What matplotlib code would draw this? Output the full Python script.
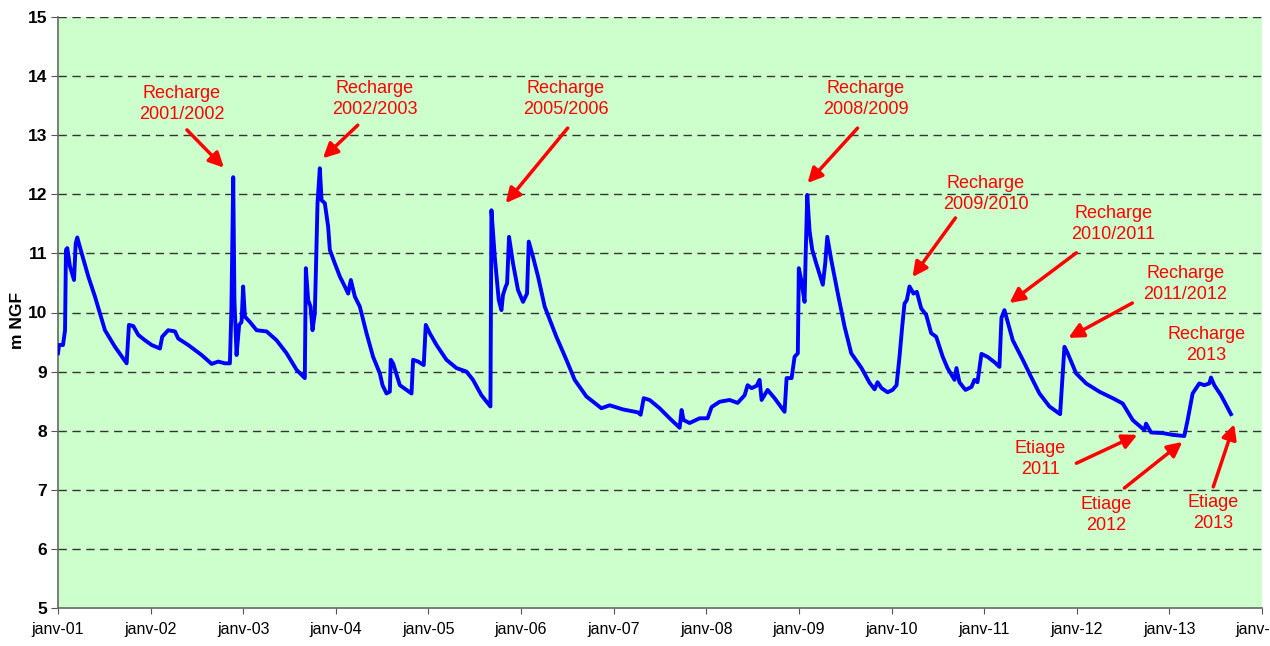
import matplotlib.pyplot as plt

plt.rcParams['font.family'] = ['Liberation Sans', 'DejaVu Sans']

# niveau piézométrique (m NGF), temps en années décimales
annees = [2001.000, 2001.011, 2001.054, 2001.076, 2001.086, 2001.100, 2001.129, 2001.173, 2001.191, 2001.208,
          2001.256, 2001.327, 2001.399, 2001.507, 2001.615, 2001.741, 2001.766, 2001.813, 2001.867, 2001.939,
          2002.011, 2002.101, 2002.125, 2002.190, 2002.263, 2002.298, 2002.406, 2002.551, 2002.659, 2002.730,
          2002.802, 2002.856, 2002.872, 2002.892, 2002.905, 2002.928, 2002.956, 2002.982, 2002.999, 2003.018,
          2003.072, 2003.144, 2003.252, 2003.360, 2003.468, 2003.576, 2003.665, 2003.676, 2003.701, 2003.727,
          2003.748, 2003.773, 2003.784, 2003.802, 2003.827, 2003.846, 2003.881, 2003.917, 2003.935, 2003.989,
          2004.043, 2004.097, 2004.133, 2004.162, 2004.205, 2004.259, 2004.331, 2004.402, 2004.475, 2004.504,
          2004.547, 2004.583, 2004.593, 2004.618, 2004.691, 2004.763, 2004.817, 2004.834, 2004.888, 2004.949,
          2004.971, 2005.014, 2005.087, 2005.194, 2005.302, 2005.410, 2005.481, 2005.572, 2005.669, 2005.680,
          2005.716, 2005.759, 2005.788, 2005.805, 2005.834, 2005.849, 2005.870, 2005.913, 2005.967, 2006.021,
          2006.064, 2006.083, 2006.129, 2006.183, 2006.255, 2006.381, 2006.489, 2006.579, 2006.705, 2006.867,
          2006.957, 2007.100, 2007.262, 2007.291, 2007.324, 2007.388, 2007.496, 2007.604, 2007.712, 2007.733,
          2007.755, 2007.820, 2007.928, 2008.014, 2008.057, 2008.144, 2008.252, 2008.338, 2008.414, 2008.446,
          2008.489, 2008.543, 2008.575, 2008.597, 2008.662, 2008.737, 2008.845, 2008.867, 2008.921, 2008.953,
          2008.988, 2008.999, 2009.025, 2009.061, 2009.072, 2009.090, 2009.115, 2009.144, 2009.187, 2009.258,
          2009.284, 2009.306, 2009.349, 2009.420, 2009.493, 2009.565, 2009.676, 2009.763, 2009.817, 2009.849,
          2009.892, 2009.957, 2010.011, 2010.054, 2010.086, 2010.115, 2010.140, 2010.165, 2010.194, 2010.237,
          2010.273, 2010.320, 2010.374, 2010.428, 2010.482, 2010.553, 2010.604, 2010.680, 2010.701, 2010.733,
          2010.798, 2010.863, 2010.895, 2010.928, 2010.971, 2011.036, 2011.111, 2011.165, 2011.187, 2011.219,
          2011.309, 2011.417, 2011.507, 2011.597, 2011.705, 2011.820, 2011.867, 2011.902, 2011.993, 2012.101,
          2012.244, 2012.388, 2012.496, 2012.604, 2012.730, 2012.748, 2012.802, 2012.927, 2013.035, 2013.161,
          2013.197, 2013.251, 2013.323, 2013.377, 2013.431, 2013.449, 2013.485, 2013.557, 2013.665]
niveaux = [9.31, 9.45, 9.45, 9.70, 11.06, 11.09, 10.78, 10.55, 11.17, 11.27,
           11.00, 10.61, 10.27, 9.70, 9.42, 9.14, 9.79, 9.77, 9.62, 9.53,
           9.45, 9.39, 9.59, 9.70, 9.68, 9.56, 9.45, 9.28, 9.13, 9.17,
           9.14, 9.14, 10.04, 12.29, 10.20, 9.28, 9.79, 9.84, 10.44, 9.93,
           9.84, 9.70, 9.68, 9.53, 9.31, 9.03, 8.89, 10.75, 10.21, 10.10,
           9.70, 9.99, 10.66, 11.85, 12.44, 11.90, 11.85, 11.45, 11.06, 10.83,
           10.61, 10.44, 10.32, 10.55, 10.27, 10.10, 9.65, 9.25, 8.97, 8.77,
           8.63, 8.66, 9.20, 9.14, 8.77, 8.69, 8.63, 9.20, 9.17, 9.11,
           9.79, 9.65, 9.45, 9.20, 9.06, 9.00, 8.86, 8.60, 8.41, 11.73,
           10.94, 10.21, 10.04, 10.30, 10.44, 10.49, 11.28, 10.83, 10.38, 10.18,
           10.32, 11.20, 10.94, 10.61, 10.10, 9.59, 9.20, 8.86, 8.58, 8.38,
           8.43, 8.36, 8.31, 8.27, 8.55, 8.52, 8.38, 8.21, 8.05, 8.35,
           8.18, 8.13, 8.21, 8.21, 8.40, 8.49, 8.52, 8.47, 8.60, 8.77,
           8.72, 8.76, 8.86, 8.52, 8.69, 8.55, 8.32, 8.89, 8.89, 9.25,
           9.31, 10.75, 10.55, 10.18, 10.92, 11.99, 11.38, 11.06, 10.83, 10.47,
           10.83, 11.28, 10.89, 10.32, 9.76, 9.31, 9.06, 8.81, 8.70, 8.82,
           8.72, 8.65, 8.69, 8.77, 9.25, 9.76, 10.15, 10.21, 10.44, 10.32,
           10.35, 10.07, 9.96, 9.65, 9.59, 9.25, 9.06, 8.86, 9.06, 8.82,
           8.69, 8.74, 8.86, 8.82, 9.30, 9.25, 9.16, 9.08, 9.91, 10.04,
           9.53, 9.20, 8.91, 8.63, 8.41, 8.28, 9.42, 9.31, 8.97, 8.80,
           8.66, 8.55, 8.46, 8.18, 8.01, 8.12, 7.97, 7.96, 7.93, 7.91,
           8.18, 8.63, 8.80, 8.77, 8.80, 8.90, 8.77, 8.60, 8.28]

annees_ticks = list(range(2001, 2015))
labels_ticks = ['janv-01', 'janv-02', 'janv-03', 'janv-04', 'janv-05', 'janv-06', 'janv-07',
                'janv-08', 'janv-09', 'janv-10', 'janv-11', 'janv-12', 'janv-13', 'janv-14']

# annotations : texte, position du texte, départ et pointe de la flèche
textes = ['Recharge\n2001/2002', 'Recharge\n2002/2003', 'Recharge\n2005/2006', 'Recharge\n2008/2009',
          'Recharge\n2009/2010', 'Recharge\n2010/2011', 'Recharge\n2011/2012', 'Recharge\n2013',
          'Etiage\n2011', 'Etiage\n2012', 'Etiage\n2013']
pos_textes = [(2002.338, 13.53), (2004.421, 13.61), (2006.482, 13.61), (2009.719, 13.61),
              (2011.014, 12.00), (2012.395, 11.50), (2013.172, 10.48), (2013.399, 9.45),
              (2011.608, 7.52), (2012.320, 6.57), (2013.474, 6.61)]
fleches = [((2002.392, 13.09), (2002.791, 12.45)),
           ((2004.237, 13.17), (2003.860, 12.61)),
           ((2006.503, 13.12), (2005.834, 11.85)),
           ((2009.633, 13.12), (2009.093, 12.19)),
           ((2010.690, 11.60), (2010.226, 10.60)),
           ((2011.996, 11.01), (2011.273, 10.16)),
           ((2012.600, 10.16), (2011.910, 9.57)),
           ((2011.996, 7.45), (2012.654, 7.93)),
           ((2012.514, 7.03), (2013.140, 7.81)),
           ((2013.474, 7.05), (2013.700, 8.11))]

fig = plt.figure(figsize=(12.7, 6.46), dpi=100)
ax = fig.add_axes([58 / 1270, 38 / 646, 1204 / 1270, 591 / 646])
ax.set_facecolor('#CCFFCC')

for v in range(6, 16):
    ax.axhline(v, color='#333333', lw=1, linestyle=(0, (6, 4)), zorder=1)

ax.plot(annees, niveaux, color='#0000FF', lw=2.8, zorder=3)

for t, (xt, yt) in zip(textes, pos_textes):
    ax.text(xt, yt, t, color='red', fontsize=13, ha='center', va='center',
            linespacing=1.3, zorder=4)
for depart, pointe in fleches:
    ax.annotate('', xy=pointe, xytext=depart,
                arrowprops=dict(arrowstyle='-|>', color='red', lw=2.5,
                                mutation_scale=22, shrinkA=0, shrinkB=0), zorder=4)

ax.set_xlim(2001, 2014)
ax.set_ylim(5, 15)
ax.set_xticks(annees_ticks)
ax.set_xticklabels(labels_ticks, fontsize=11.5)
ax.set_yticks(range(5, 16))
ax.set_yticklabels([str(v) for v in range(5, 16)], fontsize=12.5, fontweight='bold')
ax.tick_params(axis='x', direction='out', length=4, pad=6, color='#555555')
ax.tick_params(axis='y', direction='out', length=5, pad=3, color='#555555')

ax.set_ylabel('m NGF', fontsize=12.5, fontweight='bold')
ax.yaxis.set_label_coords(-0.027, 0.487)

for s in ['top', 'right']:
    ax.spines[s].set_visible(False)
for s in ['left', 'bottom']:
    ax.spines[s].set_color('#666666')
    ax.spines[s].set_linewidth(1.2)

fig.savefig('out.png', dpi=100)
